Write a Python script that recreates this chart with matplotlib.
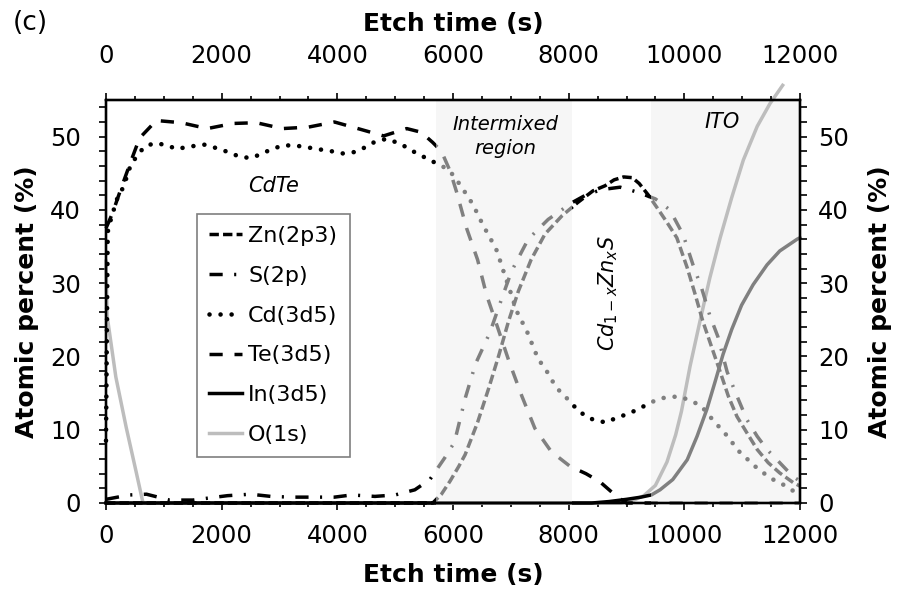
import matplotlib
matplotlib.use("Agg")
import matplotlib.pyplot as plt
from matplotlib.patches import Rectangle
from matplotlib.lines import Line2D
from matplotlib.ticker import MultipleLocator

# --- data read from the depth profile (etch time in s, atomic percent) ---
t_zn = [0, 5650, 5800, 5950, 6100, 6210, 6425, 6615, 6790, 6960, 7130, 7350, 7590, 7885,
        8155, 8420, 8630, 8785, 8950, 9100, 9220, 9380, 9520, 9700, 9870, 10050, 10190,
        10320, 10480, 10620, 10760, 10910, 11080, 11260, 11450, 11650, 11880, 12000]
zn = [0, 0, 1.2, 3, 5, 6.6, 11, 15.6, 20.1, 24.8, 28.9, 33.2, 36.7, 39.2,
      41, 42.6, 43.3, 44.1, 44.5, 44.4, 43.6, 42, 40.4, 38.3, 36.2, 32.1, 28.4,
      24.8, 21.1, 17.9, 14.6, 11.8, 9.6, 7.3, 5.5, 4.1, 2.8, 2.3]

t_s = [0, 200, 415, 700, 900, 1100, 1500, 1800, 2100, 2500, 2850, 3200, 3600, 3950, 4250,
       4650, 5000, 5340, 5600, 5860, 6025, 6215, 6390, 6635, 6825, 7010, 7300, 7645, 8060,
       8335, 8600, 8890, 9200, 9500, 9750, 9980, 10150, 10300, 10440, 10580, 10740, 10910,
       11080, 11260, 11430, 11650, 11880, 12000]
s = [0.5, 0.8, 1.1, 1.2, 0.8, 0.4, 0.4, 0.7, 1.0, 1.2, 0.9, 0.8, 0.8, 0.8, 1.1,
     0.9, 1.1, 1.8, 3.2, 6.2, 8.3, 14.4, 19, 23.2, 27.5, 31.6, 36, 38.7, 41,
     42.2, 42.8, 43.1, 42.4, 41.5, 40, 36.6, 32.5, 29.3, 25.6, 22.7, 17.9, 14.6,
     11.4, 9.1, 7.3, 5.5, 3.6, 3.0]

t_cd = [0, 30, 90, 200, 300, 430, 550, 660, 830, 1020, 1230, 1400, 1700, 1970, 2140, 2330,
        2520, 2700, 2870, 3060, 3250, 3440, 3650, 3840, 4100, 4300, 4470, 4650, 4850, 5100,
        5260, 5430, 5600, 5830, 6000, 6150, 6300, 6410, 6520, 6640, 6760, 6870, 6990, 7100,
        7280, 7470, 7620, 7730, 7850, 8020, 8140, 8320, 8490, 8660, 8840, 9010, 9200, 9370,
        9550, 9750, 9930, 10130, 10300, 10410, 10530, 10670, 10790, 10910, 11050, 11190,
        11340, 11480, 11620, 11780, 11910, 12000]
cd = [8.5, 37, 38.9, 41.7, 43.1, 46.2, 47.5, 48.6, 49.1, 48.9, 48.3, 48.6, 48.9, 48.3, 47.8, 47.2,
      47.1, 47.7, 48.3, 48.8, 48.8, 48.6, 48.3, 48.1, 47.7, 47.9, 48.5, 49.3, 49.7, 49.0,
      48.2, 47.5, 46.8, 45.9, 44.8, 43.1, 41.3, 39.7, 37.9, 36.2, 34.4, 31.7, 28.9, 26.2,
      23.4, 19.7, 18.0, 16.5, 15.2, 13.9, 12.8, 11.7, 11.2, 11.0, 11.7, 12.1, 12.8, 13.5,
      14.2, 14.5, 14.5, 13.9, 13.2, 12.1, 11.0, 9.8, 8.7, 7.3, 6.3, 5.2,
      4.3, 3.4, 2.9, 2.2, 1.5, 1.3]

t_te = [0, 110, 255, 410, 580, 870, 1300, 1750, 2200, 2600, 3050, 3500, 3950, 4400, 4800,
        5200, 5450, 5650, 5800, 5950, 6060, 6235, 6425, 6580, 6770, 6970, 7190, 7415, 7700,
        8025, 8300, 8540, 8830, 9000, 12000]
te = [37.5, 39.5, 42.8, 46.2, 49.8, 52.2, 51.9, 51.1, 51.8, 51.9, 51.1, 51.3, 52.0, 51.0, 50.1,
      51.1, 50.6, 49.2, 48, 45.3, 42.5, 37.5, 33.2, 28.4, 24, 19.3, 14.6, 10.2, 7,
      5, 4, 2.9, 0.9, 0, 0]

t_in = [0, 8400, 8700, 9000, 9250, 9430, 9580, 9800, 10050, 10220, 10390, 10530, 10670,
        10820, 10990, 11190, 11430, 11650, 11950, 12000]
in_3d5 = [0, 0, 0.2, 0.5, 0.8, 1.1, 1.8, 3.2, 5.9, 9.1, 12.8, 16.5, 20.3,
          23.7, 27, 29.8, 32.5, 34.4, 36, 36.2]

t_o = [0, 20, 170, 350, 520, 640, 8900, 9100, 9300, 9500, 9700, 9850, 9950, 10100, 10270,
       10440, 10620, 10820, 11020, 11260, 11480, 11700]
o_1s = [33, 25.5, 17.2, 10.3, 4.3, 0, 0, 0.3, 1, 2.4, 5.6, 9.3, 12.5, 18.7, 24.8,
        30.7, 36.2, 41.7, 46.8, 51.4, 54.5, 57]

# region boundaries (s): CdTe | intermixed | Cd1-xZnxS | ITO
bounds = [-1000, 5700, 8050, 9430, 13000]
shaded = [(5700, 8050), (9430, 12000)]

BLACK = "black"
GREY = "#808080"
LIGHT = "#bdbdbd"

series = [
    # label, t, values, style, colour in white regions, colour in shaded regions
    ("O(1s)", t_o, o_1s, dict(lw=2.5, ls="-"), LIGHT, LIGHT),
    ("In(3d5)", t_in, in_3d5, dict(lw=2.5, ls="-"), BLACK, GREY),
    ("Te(3d5)", t_te, te, dict(lw=2.5, ls=(0, (3.8, 3.4))), BLACK, GREY),
    ("Cd(3d5)", t_cd, cd, dict(lw=3.3, ls=(0, (0.01, 2.4)), dash_capstyle="round"), BLACK, GREY),
    ("S(2p)", t_s, s, dict(lw=2.5, ls=(0, (3.8, 3.3, 0.6, 3.3))), BLACK, GREY),
    ("Zn(2p3)", t_zn, zn, dict(lw=2.5, ls=(0, (2.7, 1.2))), BLACK, GREY),
]

plt.rcParams["font.family"] = ["DejaVu Sans"]

fig = plt.figure(figsize=(8.98, 5.9), dpi=100)
ax = fig.add_axes([106 / 898, 87 / 590, 694 / 898, 403 / 590])

for x0, x1 in shaded:
    ax.axvspan(x0, x1, color="#f6f6f6", lw=0, zorder=0)

for label, t, v, style, c_white, c_shade in series:
    for i in range(4):
        col = c_white if i % 2 == 0 else c_shade
        line, = ax.plot(t, v, color=col, zorder=2, **style)
        clip = Rectangle((bounds[i], -10), bounds[i + 1] - bounds[i], 80, transform=ax.transData)
        line.set_clip_path(clip)

ax.set_xlim(0, 12000)
ax.set_ylim(0, 55)

# legend with black proxies, as in the original
order = ["Zn(2p3)", "S(2p)", "Cd(3d5)", "Te(3d5)", "In(3d5)", "O(1s)"]
lookup = {sr[0]: sr for sr in series}
handles = []
for name in order:
    label, t, v, style, c_white, c_shade = lookup[name]
    handles.append(Line2D([], [], color=c_white, label=label, **style))
leg = ax.legend(handles=handles, loc="lower left", bbox_to_anchor=(0.131, 0.114),
                borderaxespad=0, fontsize=16, handlelength=1.5, handletextpad=0.25,
                labelspacing=0.89, borderpad=0.55, fancybox=False, framealpha=1)
leg.get_frame().set_edgecolor("#7f7f7f")
leg.get_frame().set_linewidth(1.2)
leg.set_zorder(5)

ax.text(2890, 43.2, "CdTe", style="italic", fontsize=15, ha="center", va="center")
ax.text(6900, 50, "Intermixed\nregion", style="italic", fontsize=14, ha="center",
        va="center", linespacing=1.3)
ax.text(8680, 28.7, r"$Cd_{1-x}Zn_{x}S$", rotation=90, fontsize=15, ha="center", va="center")
ax.text(10650, 52, "ITO", style="italic", fontsize=15, ha="center", va="center")
fig.text(30 / 898, 1 - 23 / 590, "(c)", fontsize=19, ha="center", va="center")

# axes, ticks and labels
ax_top = ax.twiny()
ax_right = ax.twinx()
ax_top.set_xlim(ax.get_xlim())
ax_right.set_ylim(ax.get_ylim())

for a in (ax, ax_top):
    a.xaxis.set_major_locator(MultipleLocator(2000))
    a.xaxis.set_minor_locator(MultipleLocator(500))
for a in (ax, ax_right):
    a.yaxis.set_major_locator(MultipleLocator(10))
    a.yaxis.set_minor_locator(MultipleLocator(2))

for a in (ax, ax_top, ax_right):
    for sp in a.spines.values():
        sp.set_linewidth(1.6)

ax.tick_params(axis="x", which="major", direction="out", length=5, width=1.2,
               labelsize=17.5, pad=10)
ax.tick_params(axis="x", which="minor", direction="out", length=3, width=1.2)
ax.tick_params(axis="y", which="both", direction="out", length=5, width=1.2,
               labelsize=17.5, pad=13)
ax_top.tick_params(axis="x", which="major", direction="out", length=5, width=1.2,
                   labelsize=17.5, pad=18)
ax_top.tick_params(axis="x", which="minor", direction="out", length=3, width=1.2)
ax_right.tick_params(axis="y", which="both", direction="out", length=5, width=1.2,
                     labelsize=17.5, pad=8)

ax.set_xlabel("Etch time (s)", fontsize=18, fontweight="bold")
ax_top.set_xlabel("Etch time (s)", fontsize=18, fontweight="bold")
ax.set_ylabel("Atomic percent (%)", fontsize=18, fontweight="bold")
ax_right.set_ylabel("Atomic percent (%)", fontsize=18, fontweight="bold", rotation=90)

ax.xaxis.set_label_coords(0.5, (503 - 575) / 403)
ax.xaxis.label.set_va("center")
ax_top.xaxis.set_label_coords(0.5, (503 - 24) / 403)
ax_top.xaxis.label.set_va("center")
ax.yaxis.set_label_coords((27 - 106) / 694, 0.5)
ax.yaxis.label.set_va("center")
ax_right.yaxis.set_label_coords((880 - 106) / 694, 0.5)
ax_right.yaxis.label.set_va("center")

fig.savefig("out.png", dpi=100)
